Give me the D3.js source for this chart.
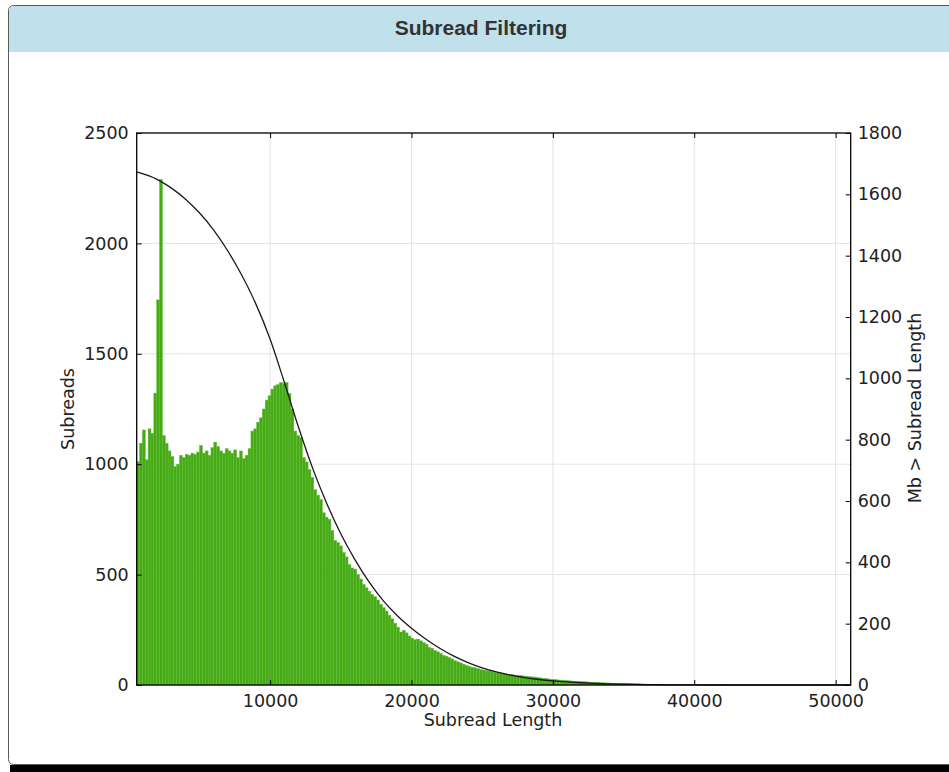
<!DOCTYPE html>
<html>
<head>
<meta charset="utf-8">
<script src="https://cdn.jsdelivr.net/npm/d3@7"></script>
<style>
  html, body { margin: 0; padding: 0; background: #fff; overflow: hidden; }
  svg { display: block; }
</style>
</head>
<body>
<svg id="chart" width="949" height="772"></svg>
<script>
// ---- data ----
const title = "Subread Filtering";
const xLabel = "Subread Length";
const yLeftLabel = "Subreads";
const yRightLabel = "Mb > Subread Length";

const binStart = 566;     // first bin left edge (subread length)
const binWidth = 202;     // bin width (subread length)
const subreadCounts = [
  1011,1095,1155,1020,1160,1140,1322,1744,2290,1130,
  1095,1060,1034,989,1000,1040,1030,1045,1040,1050,
  1045,1055,1085,1050,1060,1040,1075,1100,1080,1060,
  1050,1070,1060,1050,1065,1030,1060,1025,1040,1070,
  1150,1160,1190,1210,1250,1290,1310,1340,1355,1360,
  1370,1365,1370,1320,1250,1150,1130,1120,1030,1010,
  975,940,885,860,840,780,760,750,700,655,
  645,630,600,580,545,530,525,500,480,455,
  440,425,410,400,385,365,350,335,315,300,
  280,262,240,248,236,222,212,205,208,200,
  192,185,170,166,156,150,142,134,130,124,
  118,110,105,100,94,88,84,80,78,74,
  70,68,65,63,60,58,57,55,52,50,
  48,47,45,44,43,41,40,38,37,36,
  34,32,30,29,27,26,25,23,22,21,
  20,19,18,17,16,15,15,14,13,12,
  12,11,10,10,9,9,8,8,7,7,
  6,6,6,5,5,5,4,4,4,3,
  3,3,3,2,2,2,2,2,1,1,
  2,1,1,1,1,0,1,0,1,0,
  0,1,0,0,0,0,1,0,0,0,
  0,0,0,0,0,0,0,0,0,0,
  0,0,0,0,0,0,0,0,0,0,
  0,0,0,0,0,0,0,0,0,0,
  0,0,0,0,0,0,0,0,0,0
];

const cumLength = [566,2000,3000,4000,5000,6000,7000,8000,9000,10000,11000,12000,13000,14000,15000,16000,17000,18000,19000,20000,21000,22000,23000,24000,25000,26000,27000,28000,29000,30000,31000,32000,33000,34000,35000,36000,37000,38000,39000,40000,41000,51011];
const cumMb =     [1673,1649,1621,1585,1540,1484,1416,1336,1242,1128,988,842,708,593,493,409,336,275,226,185,150,120,94,73,56,42.5,32,24,18,13.4,10,7.4,5.4,3.9,2.8,1.9,1.2,0.7,0.35,0.12,0,0];

const xTicks = [10000, 20000, 30000, 40000, 50000];
const yLeftTicks = [0, 500, 1000, 1500, 2000, 2500];
const yRightTicks = [0, 200, 400, 600, 800, 1000, 1200, 1400, 1600, 1800];

// ---- layout ----
const svg = d3.select("#chart");
const W = 949, H = 772;
const plot = { left: 136.7, right: 850.7, top: 133, bottom: 685 };
const FONT = "'DejaVu Sans', sans-serif";
const FS = 17.5;

// panel
svg.append("rect").attr("x", 10).attr("y", 765).attr("width", W).attr("height", 8).attr("fill", "#000");
svg.append("rect").attr("x", 8.5).attr("y", 5.5).attr("width", W + 10).attr("height", 759)
  .attr("rx", 5).attr("fill", "#fff").attr("stroke", "#5a5a5a").attr("stroke-width", 1);
svg.append("path")
  .attr("d", `M9,52 L9,11 Q9,6 14,6 L${W},6 L${W},52 Z`)
  .attr("fill", "#c0e0ec");
svg.append("text").attr("x", 481).attr("y", 35)
  .attr("text-anchor", "middle").attr("font-family", "'Liberation Sans', Arial, sans-serif")
  .attr("font-weight", "bold").attr("font-size", 21).attr("fill", "#333").text(title);

// scales
const x = d3.scaleLinear().domain([binStart, binStart + binWidth * subreadCounts.length]).range([plot.left, plot.right]);
const yL = d3.scaleLinear().domain([0, 2500]).range([plot.bottom, plot.top]);
const yR = d3.scaleLinear().domain([0, 1800]).range([plot.bottom, plot.top]);

const g = svg.append("g");

// grid
g.append("g").selectAll("line").data(xTicks).join("line")
  .attr("x1", d => x(d)).attr("x2", d => x(d)).attr("y1", plot.top).attr("y2", plot.bottom)
  .attr("stroke", "#e4e4e4").attr("stroke-width", 1);
g.append("g").selectAll("line").data(yLeftTicks.filter(d => d > 0 && d < 2500)).join("line")
  .attr("x1", plot.left).attr("x2", plot.right).attr("y1", d => yL(d)).attr("y2", d => yL(d))
  .attr("stroke", "#e4e4e4").attr("stroke-width", 1);

// bars
const bins = subreadCounts.map((c, i) => ({ x0: binStart + i * binWidth, x1: binStart + (i + 1) * binWidth, c }));
g.append("g").selectAll("rect").data(bins.filter(b => b.c > 0)).join("rect")
  .attr("x", d => x(d.x0)).attr("width", d => x(d.x1) - x(d.x0))
  .attr("y", d => yL(d.c)).attr("height", d => plot.bottom - yL(d.c))
  .attr("fill", "#46aa14").attr("stroke", "#62bb3a").attr("stroke-width", 0.5);

// line
const line = d3.line().x((d, i) => x(cumLength[i])).y(d => yR(d)).curve(d3.curveMonotoneX);
g.append("path").datum(cumMb).attr("d", line)
  .attr("fill", "none").attr("stroke", "#1a1a1a").attr("stroke-width", 1.3);

// frame
g.append("rect").attr("x", plot.left).attr("y", plot.top)
  .attr("width", plot.right - plot.left).attr("height", plot.bottom - plot.top)
  .attr("fill", "none").attr("stroke", "#000").attr("stroke-width", 1.3);

// axes (inward ticks)
const tickLen = 5;
const axB = d3.axisBottom(x).tickValues(xTicks).tickFormat(d3.format("d")).tickSizeInner(-tickLen).tickSizeOuter(0).tickPadding(10);
const axT = d3.axisTop(x).tickValues(xTicks).tickFormat("").tickSizeInner(-tickLen).tickSizeOuter(0);
const axL = d3.axisLeft(yL).tickValues(yLeftTicks).tickFormat(d3.format("d")).tickSizeInner(-tickLen).tickSizeOuter(0).tickPadding(8);
const axR = d3.axisRight(yR).tickValues(yRightTicks).tickFormat(d3.format("d")).tickSizeInner(-tickLen).tickSizeOuter(0).tickPadding(7);

function style(sel) {
  sel.select(".domain").remove();
  sel.selectAll(".tick line").attr("stroke", "#000").attr("stroke-width", 1);
  sel.selectAll(".tick text").attr("font-family", FONT).attr("font-size", FS).attr("fill", "#222");
}
svg.append("g").attr("transform", `translate(0,${plot.bottom})`).call(axB).call(style);
svg.append("g").attr("transform", `translate(0,${plot.top})`).call(axT).call(style);
svg.append("g").attr("transform", `translate(${plot.left},0)`).call(axL).call(style);
svg.append("g").attr("transform", `translate(${plot.right},0)`).call(axR).call(style);

// axis labels
svg.append("text").attr("x", 493).attr("y", 726).attr("text-anchor", "middle")
  .attr("font-family", FONT).attr("font-size", FS).attr("fill", "#222").text(xLabel);
svg.append("text").attr("transform", `translate(74,409) rotate(-90)`).attr("text-anchor", "middle")
  .attr("font-family", FONT).attr("font-size", FS).attr("fill", "#222").text(yLeftLabel);
svg.append("text").attr("transform", `translate(921,408) rotate(-90)`).attr("text-anchor", "middle")
  .attr("font-family", FONT).attr("font-size", FS).attr("fill", "#222").text(yRightLabel);
</script>
</body>
</html>
